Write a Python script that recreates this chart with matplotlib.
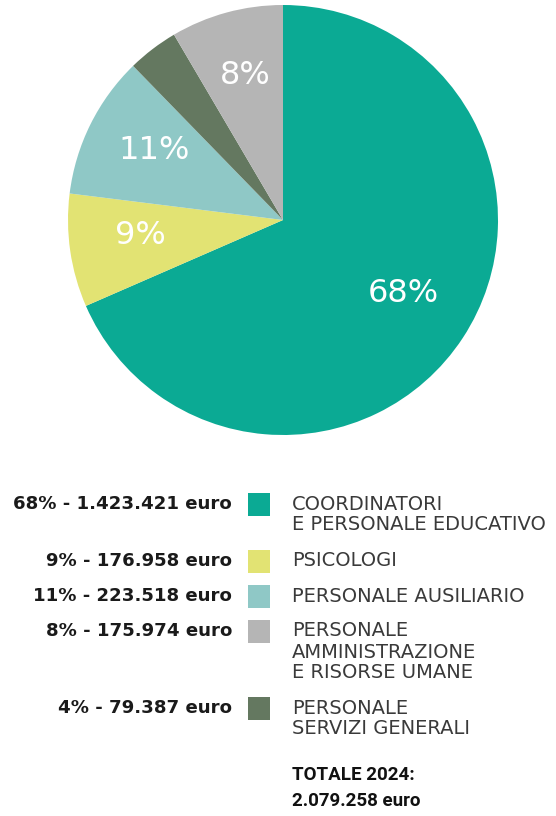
import matplotlib
matplotlib.use("Agg")
import matplotlib.pyplot as plt
from matplotlib.patches import Rectangle

# Data
categories = ["COORDINATORI\nE PERSONALE EDUCATIVO", "PSICOLOGI", "PERSONALE AUSILIARIO",
              "PERSONALE SERVIZI GENERALI", "PERSONALE AMMINISTRAZIONE\nE RISORSE UMANE"]
values = [1423421, 176958, 223518, 79387, 175974]
pie_labels = ["68%", "9%", "11%", "", "8%"]
colors = ["#0BAA94", "#E2E373", "#8FC8C6", "#647860", "#B5B5B5"]

legend_left = ["68% - 1.423.421 euro", "9% - 176.958 euro", "11% - 223.518 euro",
               "8% - 175.974 euro", "4% - 79.387 euro"]
legend_right = ["COORDINATORI\nE PERSONALE EDUCATIVO", "PSICOLOGI", "PERSONALE AUSILIARIO",
                "PERSONALE\nAMMINISTRAZIONE\nE RISORSE UMANE", "PERSONALE\nSERVIZI GENERALI"]
legend_colors = ["#0BAA94", "#E2E373", "#8FC8C6", "#B5B5B5", "#647860"]
total_text = "TOTALE 2024:\n2.079.258 euro"

W, H = 556, 816
fig = plt.figure(figsize=(W / 100, H / 100), dpi=100)
fig.patch.set_facecolor("white")

cx, cy, r = 283, 220, 215
ax = fig.add_axes([(cx - r) / W, 1 - (cy + r) / H, 2 * r / W, 2 * r / H])
ax.set_aspect("equal")
wedges, texts = ax.pie(values, colors=colors, startangle=90, counterclock=False,
                       labels=pie_labels, labeldistance=0.67,
                       wedgeprops=dict(linewidth=0),
                       textprops=dict(color="white", fontsize=23, family="DejaVu Sans",
                                      ha="center", va="center"))
for t in texts:
    x, y = t.get_position()
    t.set_position((x, y + 0.025))
ax.set_xlim(-1, 1)
ax.set_ylim(-1, 1)
ax.axis("off")

# Legend in pixel coordinates
lax = fig.add_axes([0, 0, 1, 1])
lax.set_xlim(0, W)
lax.set_ylim(H, 0)
lax.axis("off")

rows_y = [504, 561, 596, 631, 708]
line_h = 21
for y, lt, rt, c in zip(rows_y, legend_left, legend_right, legend_colors):
    lax.text(232, y, lt, ha="right", va="center", fontsize=13.1, family="DejaVu Sans",
             fontweight="bold", color="#1a1a1a")
    lax.add_patch(Rectangle((248, y - 11), 22, 23, facecolor=c, edgecolor="none"))
    for i, line in enumerate(rt.split("\n")):
        lax.text(292, y + i * line_h, line, ha="left", va="center", fontsize=14,
                 family="DejaVu Sans", color="#3a3a3a")

for i, line in enumerate(total_text.split("\n")):
    lax.text(292, 775 + i * 26, line, ha="left", va="center", fontsize=13.5,
             family="Roboto", fontweight="bold", color="#111111")

fig.savefig("out.png", dpi=100, facecolor="white")
